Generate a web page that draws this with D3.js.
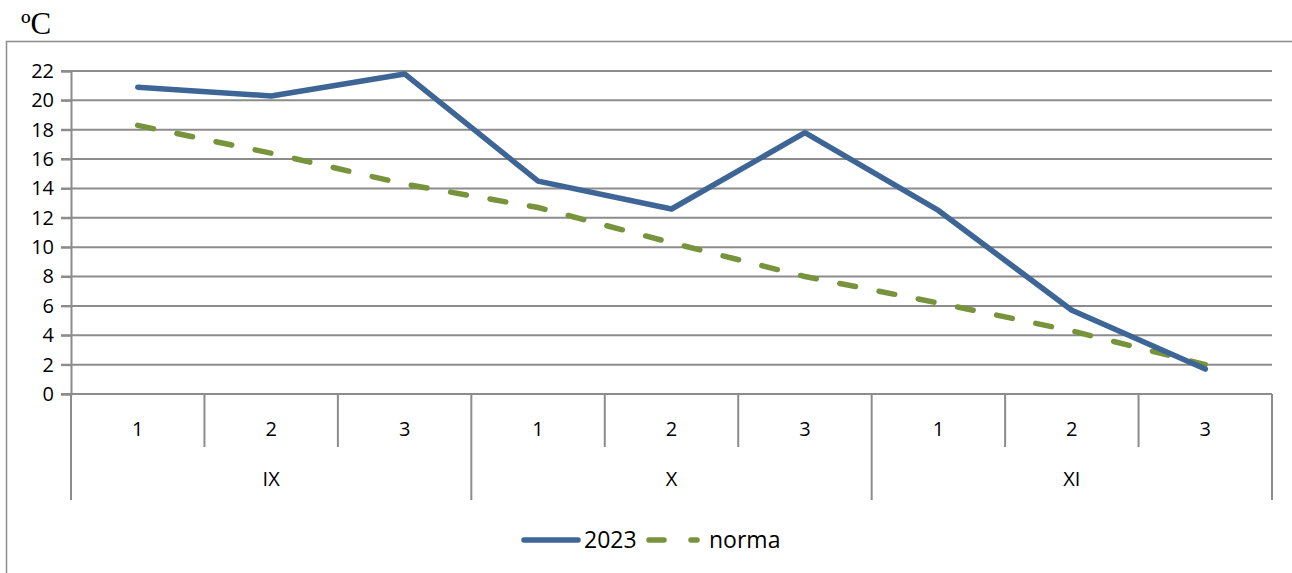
<!DOCTYPE html>
<html>
<head>
<meta charset="utf-8">
<script src="https://cdn.jsdelivr.net/npm/d3@7"></script>
<style>
  body { margin: 0; background: #fff; }
  svg text { font-family: "Open Sans", "Noto Sans", sans-serif; }
</style>
</head>
<body>
<svg id="chart" width="1292" height="573"></svg>
<script>
// Data
var decades = ['1', '2', '3', '1', '2', '3', '1', '2', '3'];
var months = ['IX', 'X', 'XI'];
var year2023 = [20.9, 20.3, 21.8, 14.5, 12.6, 17.8, 12.5, 5.7, 1.7];
var norma = [18.3, 16.4, 14.3, 12.7, 10.3, 8.0, 6.2, 4.3, 2.0];
var yTicks = [0, 2, 4, 6, 8, 10, 12, 14, 16, 18, 20, 22];

var svg = d3.select('#chart');
var grey = '#8c8c8c';

var pLeft = 71, pRight = 1272, pTop = 71, pBottom = 394;

var x = d3.scaleBand()
    .domain(d3.range(decades.length))
    .range([pLeft, pRight]);

var y = d3.scaleLinear()
    .domain([0, 22])
    .range([pBottom, pTop]);

// Outer frame
svg.append('rect')
    .attr('x', 6.5).attr('y', 41.5)
    .attr('width', 1300).attr('height', 600)
    .attr('fill', 'none')
    .attr('stroke', grey)
    .attr('stroke-width', 1.5);

// Unit label
svg.append('text')
    .attr('x', 21).attr('y', 34)
    .style('font-family', '"Liberation Serif", "DejaVu Serif", serif')
    .style('font-size', '31px')
    .text('ºC');

// Gridlines
svg.append('g')
  .selectAll('line')
    .data(yTicks)
  .enter().append('line')
    .attr('x1', pLeft - 10).attr('x2', pRight)
    .attr('y1', function(d){ return y(d); })
    .attr('y2', function(d){ return y(d); })
    .attr('stroke', grey)
    .attr('stroke-width', 2);

// Y axis
var yAxis = svg.append('g')
    .attr('transform', 'translate(' + pLeft + ',0)')
    .call(d3.axisLeft(y).tickValues(yTicks).tickSize(10).tickPadding(7));
yAxis.select('.domain').attr('stroke', grey).attr('stroke-width', 2);
yAxis.selectAll('.tick line').attr('stroke', grey).attr('stroke-width', 2);
yAxis.selectAll('.tick text')
    .attr('fill', '#000')
    .style('font-size', '20px');

// Y axis line down to bottom of category area
svg.append('line')
    .attr('x1', pLeft).attr('x2', pLeft)
    .attr('y1', pBottom).attr('y2', 500)
    .attr('stroke', grey).attr('stroke-width', 2);

// Category separators (decades)
svg.append('g')
  .selectAll('line')
    .data(d3.range(1, decades.length))
  .enter().append('line')
    .attr('x1', function(d){ return x(d); })
    .attr('x2', function(d){ return x(d); })
    .attr('y1', pBottom)
    .attr('y2', function(d){ return d % 3 ? 447 : 500; })
    .attr('stroke', grey)
    .attr('stroke-width', 2);

svg.append('line')
    .attr('x1', pRight).attr('x2', pRight)
    .attr('y1', pBottom).attr('y2', 500)
    .attr('stroke', grey).attr('stroke-width', 2);

// Decade labels
svg.append('g')
  .selectAll('text')
    .data(decades)
  .enter().append('text')
    .attr('x', function(d, i){ return x(i) + x.bandwidth() / 2; })
    .attr('y', 436)
    .attr('text-anchor', 'middle')
    .style('font-size', '20px')
    .text(function(d){ return d; });

// Month labels
svg.append('g')
  .selectAll('text')
    .data(months)
  .enter().append('text')
    .attr('x', function(d, i){ return x(i * 3) + x.bandwidth() * 1.5; })
    .attr('y', 486)
    .attr('text-anchor', 'middle')
    .style('font-size', '20px')
    .text(function(d){ return d; });

// Lines
var line = d3.line()
    .x(function(d, i){ return x(i) + x.bandwidth() / 2; })
    .y(function(d){ return y(d); });

svg.append('path')
    .datum(norma)
    .attr('d', line)
    .attr('fill', 'none')
    .attr('stroke', '#77933c')
    .attr('stroke-width', 5.5)
    .attr('stroke-linecap', 'round')
    .attr('stroke-dasharray', '16,24');

svg.append('path')
    .datum(year2023)
    .attr('d', line)
    .attr('fill', 'none')
    .attr('stroke', '#3d6595')
    .attr('stroke-width', 5.5)
    .attr('stroke-linecap', 'round')
    .attr('stroke-linejoin', 'round');

// Legend
var lg = svg.append('g');
lg.append('line')
    .attr('x1', 524).attr('x2', 578)
    .attr('y1', 540).attr('y2', 540)
    .attr('stroke', '#3d6595').attr('stroke-width', 5.5)
    .attr('stroke-linecap', 'round');
lg.append('text')
    .attr('x', 584).attr('y', 548)
    .style('font-size', '23px')
    .text('2023');
lg.append('line')
    .attr('x1', 649).attr('x2', 697)
    .attr('y1', 540).attr('y2', 540)
    .attr('stroke', '#77933c').attr('stroke-width', 5.5)
    .attr('stroke-linecap', 'round')
    .attr('stroke-dasharray', '15,27');
lg.append('text')
    .attr('x', 709).attr('y', 548)
    .style('font-size', '23px')
    .text('norma');
</script>
</body>
</html>
